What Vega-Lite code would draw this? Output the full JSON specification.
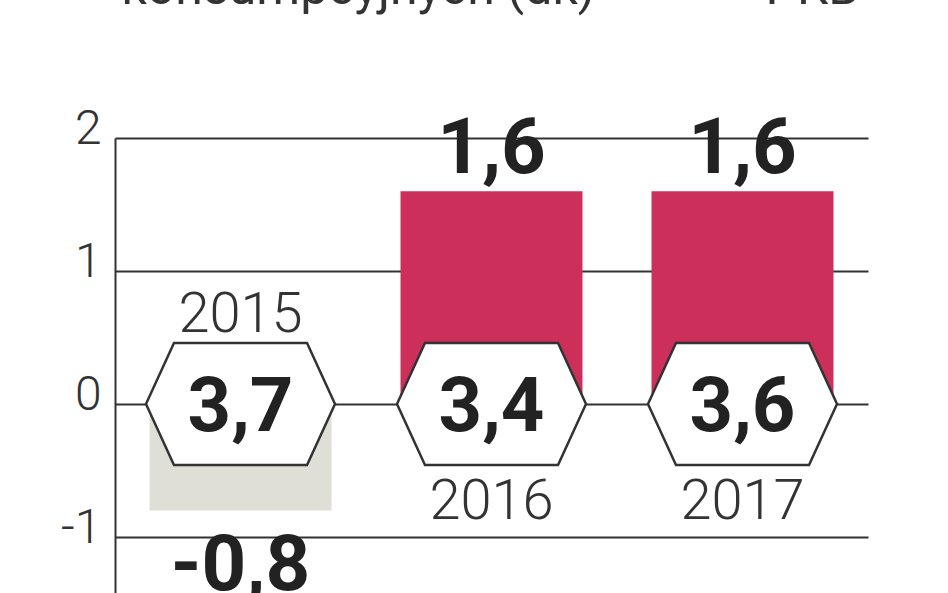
{
  "$schema": "https://vega.github.io/schema/vega-lite/v6.json",
  "autosize": {"type": "none"},
  "width": 753,
  "height": 455,
  "padding": {"left": 115, "top": 138, "right": 80, "bottom": 0},
  "background": "white",
  "config": {
    "view": {"stroke": null},
    "locale": {"number": {"decimal": ",", "thousands": " ", "grouping": [3], "currency": ["", " zł"], "minus": "-"}},
    "font": "Roboto"
  },
  "data": {
    "values": [
      {"year": "2015", "value": -0.8, "gdp": 3.7},
      {"year": "2016", "value": 1.6, "gdp": 3.4},
      {"year": "2017", "value": 1.6, "gdp": 3.6}
    ]
  },
  "encoding": {
    "x": {
      "field": "year", "type": "nominal",
      "scale": {"paddingInner": 0.275, "paddingOuter": 0.1375},
      "axis": null
    }
  },
  "layer": [
    {
      "mark": {"type": "bar"},
      "encoding": {
        "y": {
          "field": "value", "type": "quantitative",
          "scale": {"domain": [-1.421, 2], "nice": false, "zero": false},
          "axis": {
            "values": [-1, 0, 1, 2], "format": "d", "title": null,
            "grid": true, "gridColor": "#333333", "gridWidth": 2, "gridOpacity": 1,
            "domain": true, "domainColor": "#333333", "domainWidth": 2,
            "ticks": false, "labelPadding": 14, "labelFontSize": 48,
            "labelFont": "Roboto", "labelFontWeight": 300, "labelColor": "#333333",
            "labelBaseline": "alphabetic", "labelOffset": 5
          }
        },
        "color": {
          "condition": {"test": "datum.value < 0", "value": "#dfdfd8"},
          "value": "#cc2f5a"
        }
      }
    },
    {
      "mark": {"type": "text", "font": "Roboto", "fontWeight": "bold", "fontSize": 78, "baseline": "alphabetic", "dy": -18, "color": "#222222", "align": "center"},
      "transform": [{"filter": "datum.value >= 0"}],
      "encoding": {
        "y": {"field": "value", "type": "quantitative"},
        "text": {"field": "value", "type": "quantitative", "format": ".1f"}
      }
    },
    {
      "mark": {"type": "text", "font": "Roboto", "fontWeight": "bold", "fontSize": 78, "baseline": "alphabetic", "dy": 80, "color": "#222222", "align": "center"},
      "transform": [{"filter": "datum.value < 0"}],
      "encoding": {
        "y": {"field": "value", "type": "quantitative"},
        "text": {"field": "value", "type": "quantitative", "format": ".1f"}
      }
    },
    {
      "mark": {"type": "point", "filled": true, "fill": "white", "stroke": "#333333", "strokeWidth": 2.5, "opacity": 1,
        "shape": "M -1 0 L -0.704 -0.645 L 0.704 -0.645 L 1 0 L 0.704 0.645 L -0.704 0.645 Z", "size": 35721},
      "encoding": {
        "y": {"datum": 0, "type": "quantitative"}
      }
    },
    {
      "mark": {"type": "text", "font": "Roboto", "fontWeight": "bold", "fontSize": 76, "baseline": "alphabetic", "dy": 27, "color": "#222222", "align": "center"},
      "encoding": {
        "y": {"datum": 0, "type": "quantitative"},
        "text": {"field": "gdp", "type": "quantitative", "format": ".1f"}
      }
    },
    {
      "mark": {"type": "text", "font": "Roboto", "fontWeight": 300, "fontSize": 56, "baseline": "alphabetic", "dy": -72, "color": "#333333", "align": "center"},
      "transform": [{"filter": "datum.year == '2015'"}],
      "encoding": {
        "y": {"datum": 0, "type": "quantitative"},
        "text": {"field": "year", "type": "nominal"}
      }
    },
    {
      "mark": {"type": "text", "font": "Roboto", "fontWeight": 300, "fontSize": 56, "baseline": "alphabetic", "dy": 115, "color": "#333333", "align": "center"},
      "transform": [{"filter": "datum.year != '2015'"}],
      "encoding": {
        "y": {"datum": 0, "type": "quantitative"},
        "text": {"field": "year", "type": "nominal"}
      }
    },
    {
      "mark": {"type": "text", "font": "Roboto", "fontSize": 50, "baseline": "alphabetic", "dy": 0, "dx": -119, "color": "#333333", "align": "left"},
      "transform": [{"filter": "datum.year == '2015'"}],
      "encoding": {
        "y": {"datum": 3.01, "type": "quantitative"},
        "text": {"value": "konsumpcyjnych (dk)"}
      }
    },
    {
      "mark": {"type": "text", "font": "Roboto", "fontSize": 50, "baseline": "alphabetic", "dy": 0, "dx": 117, "color": "#333333", "align": "right"},
      "transform": [{"filter": "datum.year == '2017'"}],
      "encoding": {
        "y": {"datum": 3.01, "type": "quantitative"},
        "text": {"value": "PKB"}
      }
    }
  ]
}
